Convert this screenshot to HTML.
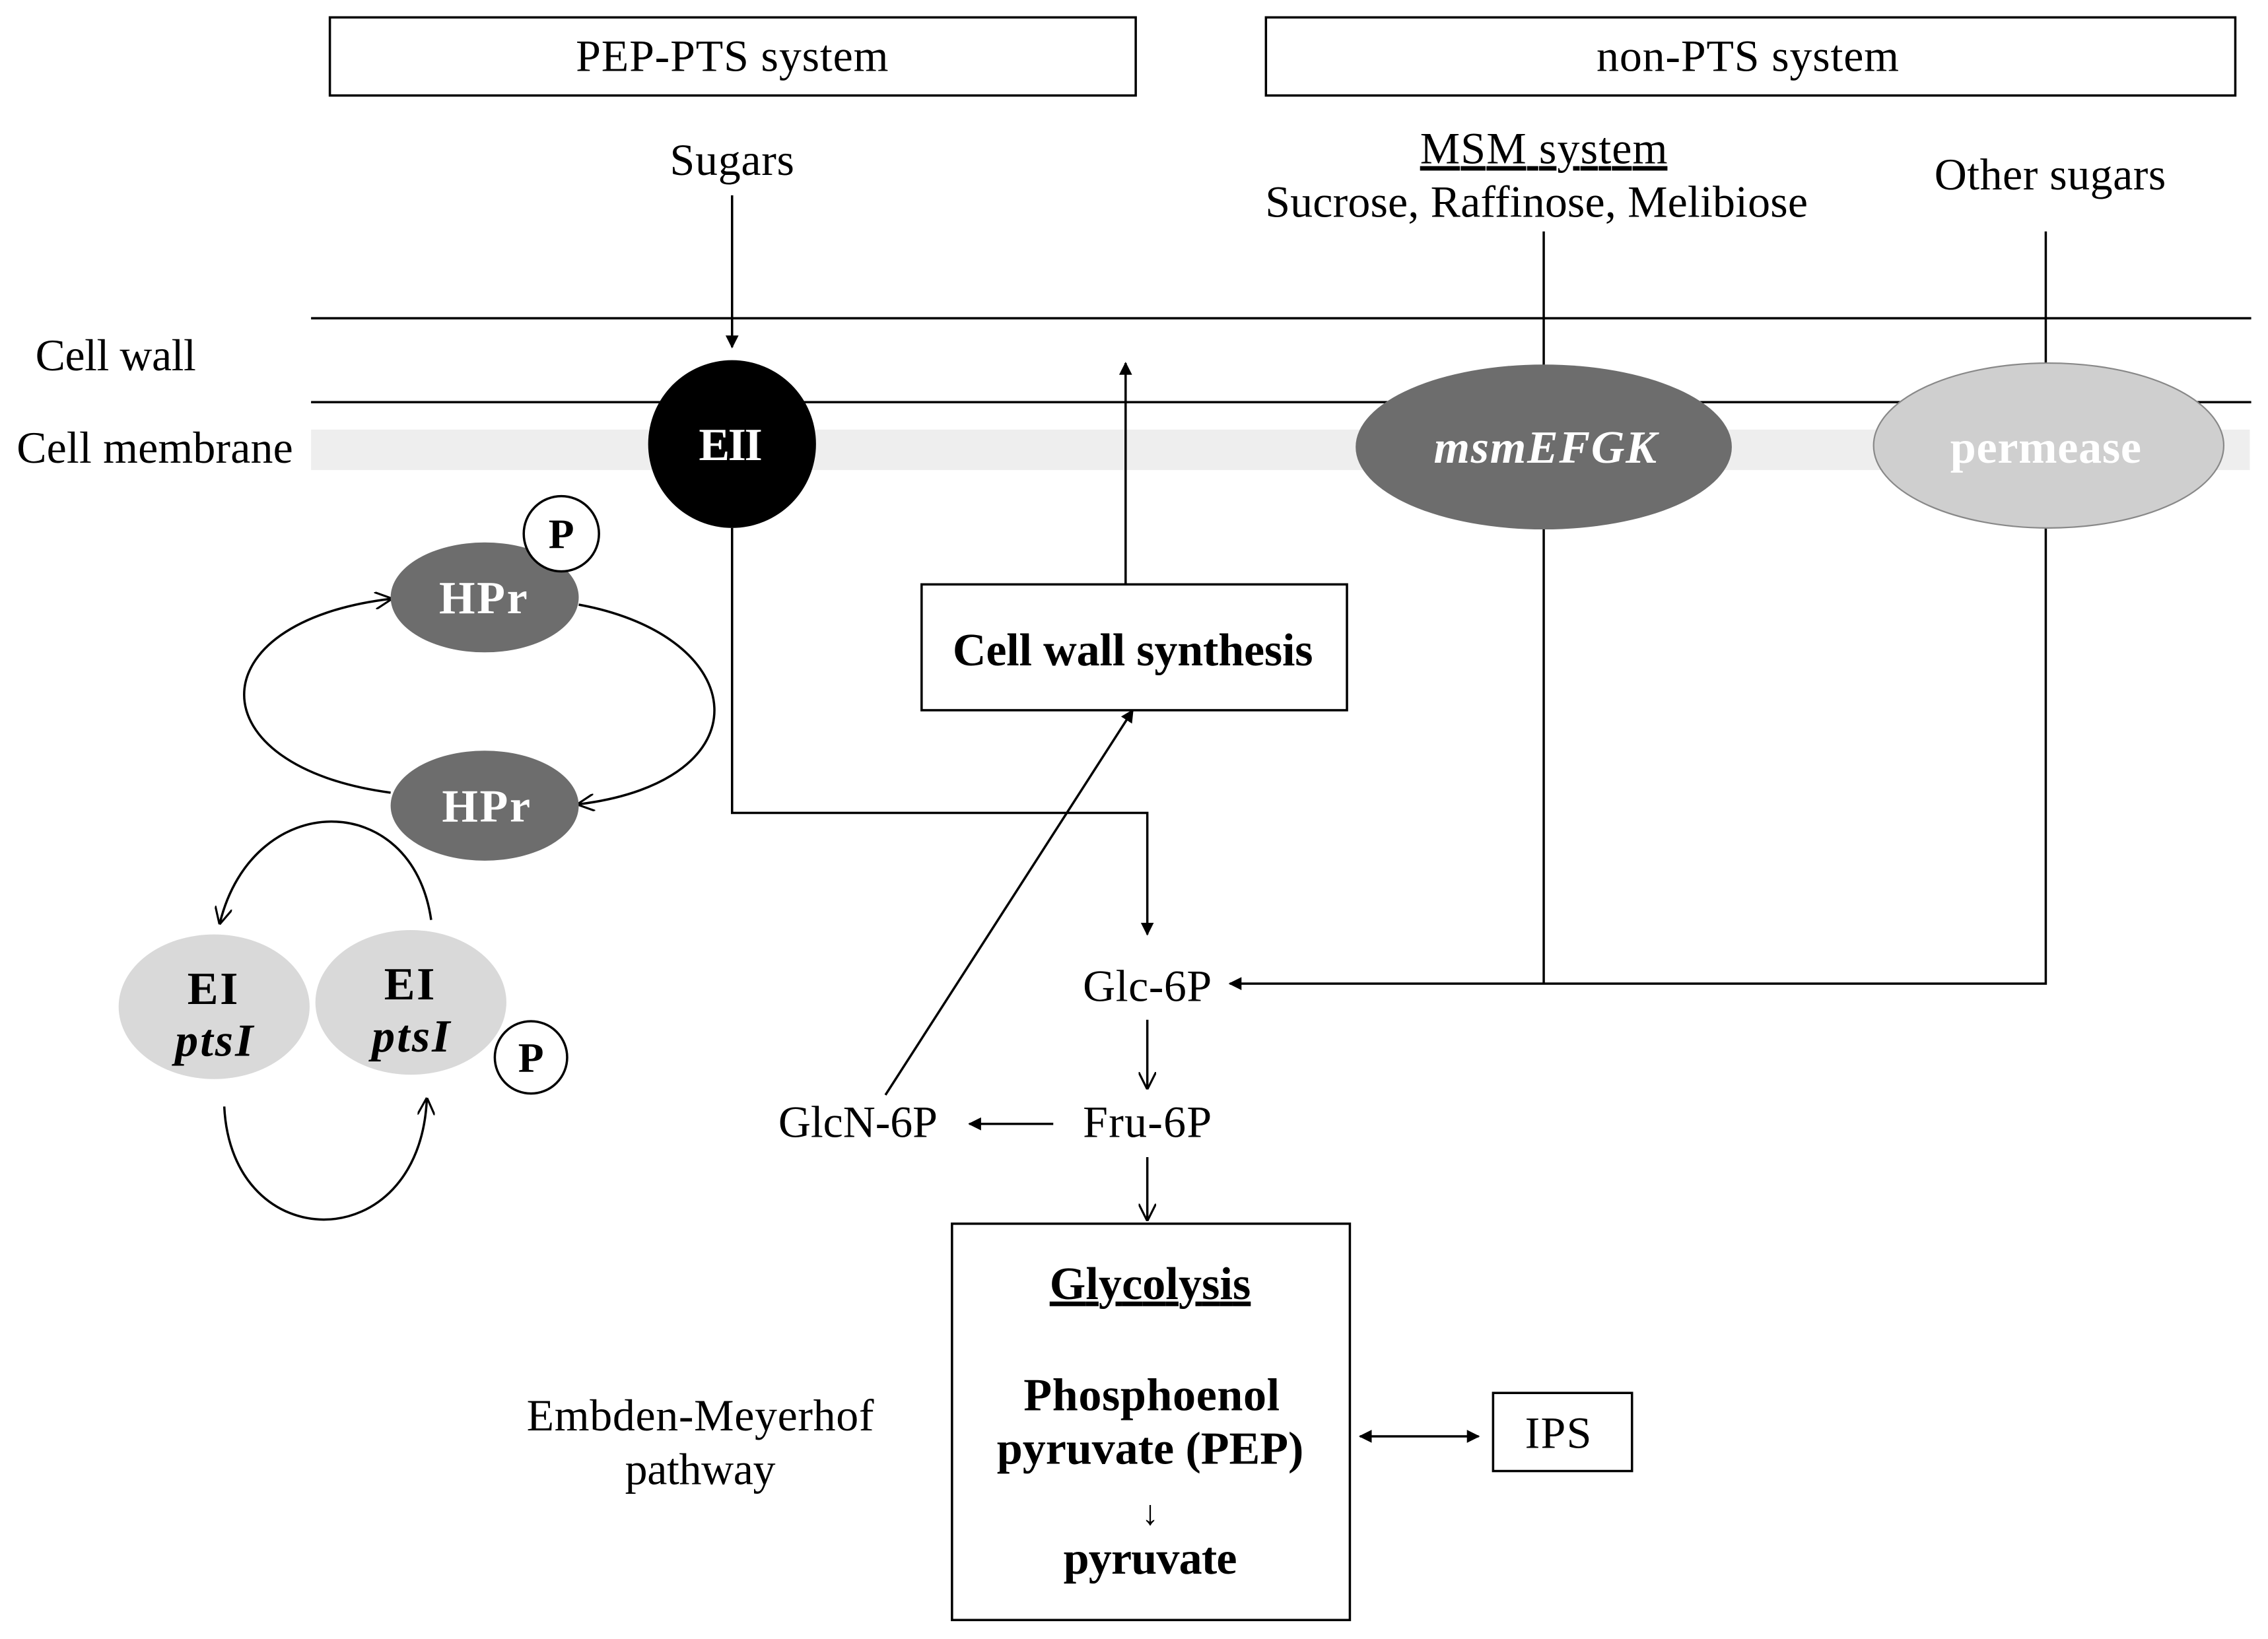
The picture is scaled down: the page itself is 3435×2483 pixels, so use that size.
<!DOCTYPE html>
<html><head><meta charset="utf-8"><style>html,body{margin:0;padding:0;background:#fff}svg{display:block}</style></head>
<body>
<svg width="3435" height="2483" viewBox="0 0 1567.6 1133.1" xmlns="http://www.w3.org/2000/svg" font-family="Liberation Serif, serif">
<defs>
<marker id="a" viewBox="0 0 10 10" refX="9" refY="5" markerWidth="9" markerHeight="9" orient="auto-start-reverse" markerUnits="userSpaceOnUse"><path d="M0,0L10,5L0,10z" fill="#000"/></marker>
<marker id="o" viewBox="0 0 10 10" refX="9" refY="5" markerWidth="12" markerHeight="12" orient="auto" markerUnits="userSpaceOnUse"><path d="M0,0L10,5L0,10" fill="none" stroke="#000" stroke-width="1.2"/></marker>
</defs>
<rect width="1567.6" height="1133.1" fill="#fff"/>
<g fill="none" stroke="#000" stroke-width="1.6">
<rect x="228" y="12" width="557" height="54"/>
<rect x="875" y="12" width="670" height="54"/>
</g>
<g font-size="31" text-anchor="middle" lengthAdjust="spacingAndGlyphs">
<text x="506" y="49" textLength="216">PEP-PTS system</text>
<text x="1208" y="49" textLength="209">non-PTS system</text>
<text x="506" y="121" textLength="86">Sugars</text>
<text x="1067" y="113" textLength="171" text-decoration="underline">MSM system</text>
<text x="1062" y="150" textLength="375">Sucrose, Raffinose, Melibiose</text>
<text x="1417" y="131" textLength="160">Other sugars</text>
<text x="80" y="256" textLength="111">Cell wall</text>
<text x="107" y="320" textLength="191">Cell membrane</text>
<text x="793" y="692" textLength="89">Glc-6P</text>
<text x="793" y="786" textLength="89">Fru-6P</text>
<text x="593" y="786" textLength="110">GlcN-6P</text>
<text x="484" y="989" textLength="240">Embden-Meyerhof</text>
<text x="484" y="1026" textLength="104">pathway</text>
<text x="1077" y="1001" textLength="46">IPS</text>
</g>
<rect x="215" y="297" width="1340" height="28" fill="#eeeeee"/>
<g stroke="#000" stroke-width="1.6" fill="none">
<line x1="215" y1="220" x2="1556" y2="220"/>
<line x1="215" y1="278" x2="1556" y2="278"/>
<line x1="506" y1="135" x2="506" y2="240" marker-end="url(#a)"/>
<line x1="1067" y1="160" x2="1067" y2="255"/>
<line x1="1414" y1="160" x2="1414" y2="252"/>
<polyline points="1067,365 1067,680"/>
<polyline points="1414,365 1414,680 850,680" marker-end="url(#a)"/>
<polyline points="506,365 506,562 793,562 793,646" marker-end="url(#a)"/>
<line x1="778" y1="404" x2="778" y2="251" marker-end="url(#a)"/>
<line x1="793" y1="705" x2="793" y2="752" marker-end="url(#o)"/>
<line x1="728" y1="777" x2="670" y2="777" marker-end="url(#a)"/>
<line x1="612" y1="757" x2="783" y2="491" marker-end="url(#a)"/>
<line x1="793" y1="800" x2="793" y2="843" marker-end="url(#o)"/>
<line x1="940" y1="993" x2="1022" y2="993" marker-start="url(#a)" marker-end="url(#a)"/>
<rect x="637" y="404" width="294" height="87" fill="#fff"/>
<rect x="658" y="846" width="275" height="274"/>
<rect x="1032" y="963" width="96" height="54"/>
<path d="M400,418 C520,440 530,540 400,556" marker-end="url(#o)"/>
<path d="M270,548 C135,530 135,430 270,414" marker-end="url(#o)"/>
<path d="M298,636 C285,545 175,545 152,638" marker-end="url(#o)"/>
<path d="M155,765 C160,870 290,870 295,760" marker-end="url(#o)"/>
</g>
<circle cx="506" cy="307" r="58" fill="#000"/>
<ellipse cx="1067" cy="309" rx="130" ry="57" fill="#6d6d6d"/>
<ellipse cx="1416" cy="308" rx="121" ry="57" fill="#cfcfcf" stroke="#888" stroke-width="1"/>
<ellipse cx="335" cy="413" rx="65" ry="38" fill="#6d6d6d"/>
<ellipse cx="335" cy="557" rx="65" ry="38" fill="#6d6d6d"/>
<ellipse cx="148" cy="696" rx="66" ry="50" fill="#d9d9d9"/>
<ellipse cx="284" cy="693" rx="66" ry="50" fill="#d9d9d9"/>
<circle cx="388" cy="369" r="26" fill="#fff" stroke="#000" stroke-width="1.6"/>
<circle cx="367" cy="731" r="25" fill="#fff" stroke="#000" stroke-width="1.6"/>
<g font-size="32" font-weight="bold" text-anchor="middle" lengthAdjust="spacingAndGlyphs">
<text x="505" y="318" fill="#fff" textLength="44">EII</text>
<text x="1068" y="320" fill="#fff" font-style="italic" textLength="154">msmEFGK</text>
<text x="1414" y="320" fill="#fff" textLength="132">permease</text>
<text x="334" y="424" fill="#fff" textLength="61">HPr</text>
<text x="336" y="568" fill="#fff" textLength="61">HPr</text>
<text x="388" y="379" font-size="29">P</text>
<text x="367" y="741" font-size="29">P</text>
<text x="147" y="694" textLength="35">EI</text>
<text x="148" y="730" font-style="italic" textLength="54">ptsI</text>
<text x="283" y="691" textLength="35">EI</text>
<text x="284" y="727" font-style="italic" textLength="54">ptsI</text>
<text x="783" y="460" textLength="249">Cell wall synthesis</text>
<text x="795" y="898" textLength="139" text-decoration="underline">Glycolysis</text>
<text x="796" y="975" textLength="177">Phosphoenol</text>
<text x="795" y="1012" textLength="212">pyruvate (PEP)</text>
<text x="795" y="1088" textLength="120">pyruvate</text>
</g>
<text x="795" y="1054" font-size="24" text-anchor="middle">↓</text>
</svg>
</body></html>
